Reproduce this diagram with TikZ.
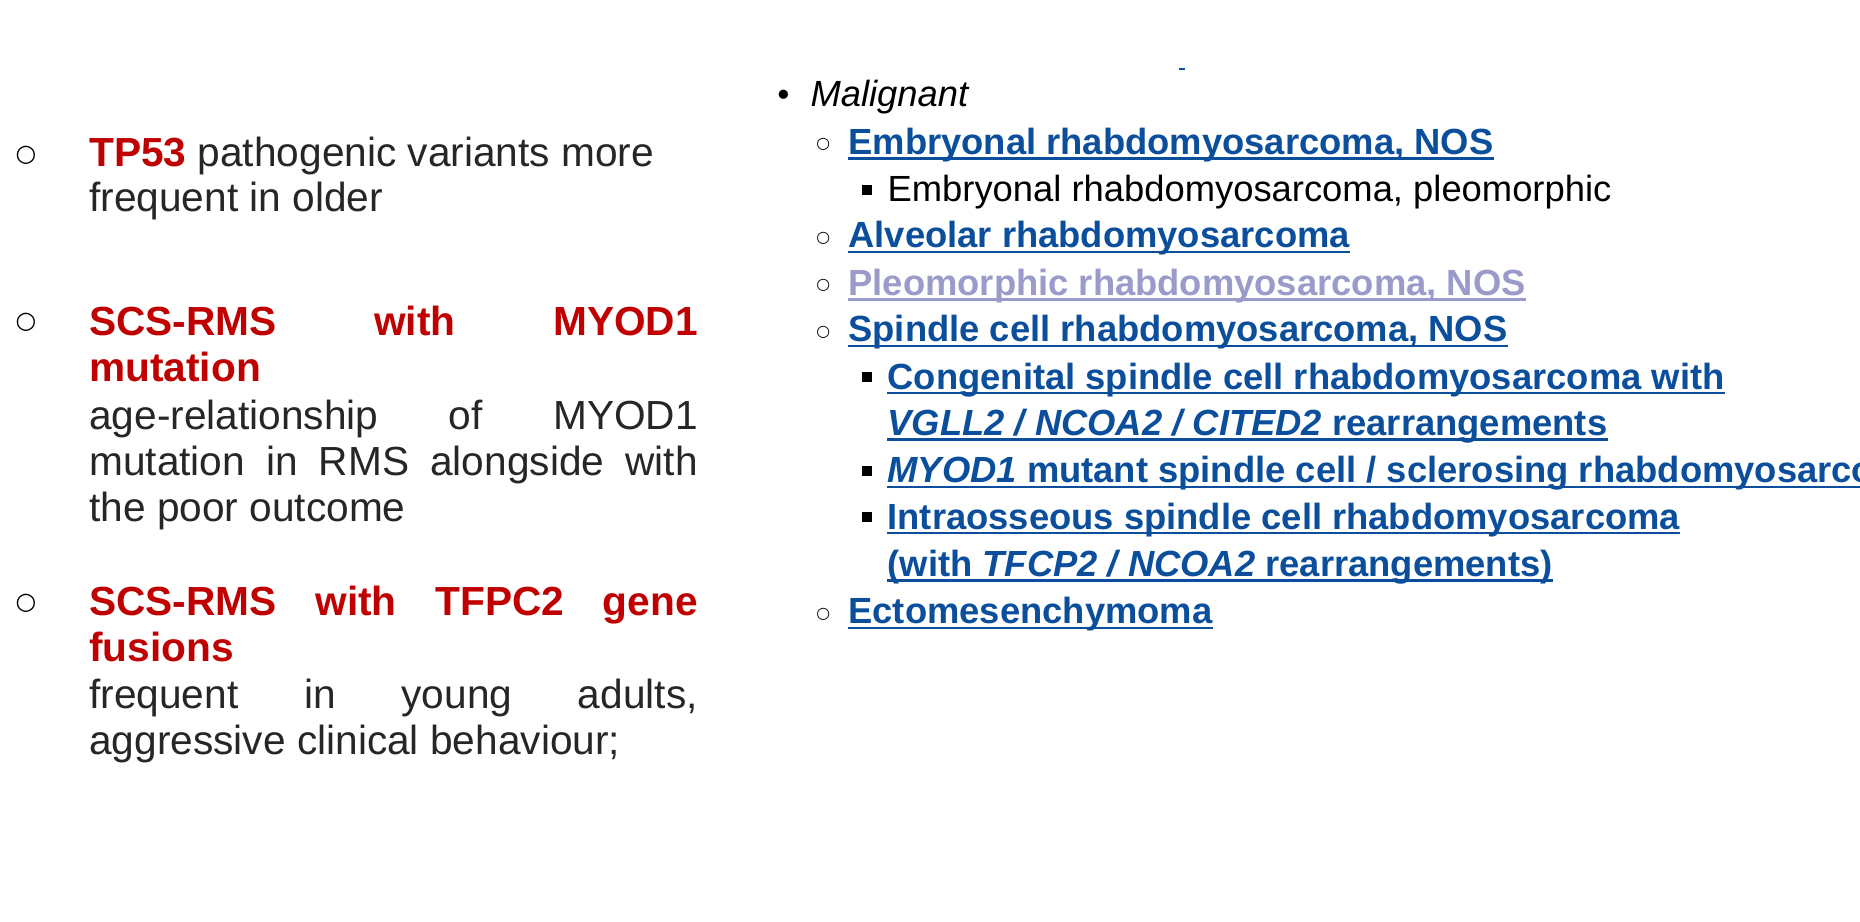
\documentclass[tikz,border=0pt]{standalone}
\usepackage{fontspec}
\setmainfont{Liberation Sans}
\newfontfamily\symfont{DejaVu Sans}
\definecolor{redt}{HTML}{C00000}
\definecolor{txt}{HTML}{262626}
\definecolor{lnk}{HTML}{0B4F9C}
\definecolor{lnkv}{HTML}{9B9BCB}
\begin{document}
\begin{tikzpicture}[x=0.75pt,y=-0.75pt,
  lt/.style={anchor=base west,inner sep=0pt,font=\fontsize{25.7}{30}\selectfont,text=txt},
  rd/.style={lt,font=\fontsize{25.7}{30}\selectfont\bfseries,text=redt},
  bl/.style={anchor=center,inner sep=0pt,font=\fontsize{15}{18}\symfont,text=black},
  rt/.style={anchor=base west,inner sep=0pt,font=\fontsize{23}{26}\selectfont\bfseries,text=lnk},
  ul/.style={line width=1.5pt}]
\useasboundingbox (0,0) rectangle (1568,776.5);
\clip (0,0) rectangle (1568,776.5);
\fill[white] (0,0) rectangle (1568,776.5);
% left column
\node[bl] (b1) at (22,131) {○};
\node[lt] (l1) at (75,140) {\textcolor{redt}{\bfseries TP53} pathogenic variants more};
\node[lt] (l2) at (75,178) {frequent in older};
\node[bl] (b2) at (22,272) {○};
\node[rd] (l3) at (75,283) {\makebox[384.75pt][s]{SCS-RMS with MYOD1}};
\node[rd] (l4) at (75,322) {mutation};
\node[lt] (l5) at (75,362) {\makebox[384.75pt][s]{age-relationship of MYOD1}};
\node[lt] (l6) at (75,401) {\makebox[384.75pt][s]{mutation in RMS alongside with}};
\node[lt] (l7) at (75,440) {the poor outcome};
\node[bl] (b3) at (22,509) {○};
\node[rd] (l8) at (75,519) {\makebox[384.75pt][s]{SCS-RMS with TFPC2 gene}};
\node[rd] (l9) at (75,558) {fusions};
\node[lt] (l10) at (75,597) {\makebox[384.75pt][s]{frequent in young adults,}};
\node[lt] (l11) at (75,636) {aggressive clinical behaviour;};
% right column
\draw[lnk,line width=1pt] (994,58) -- (999,58);
\node[bl,font=\fontsize{20}{22}\symfont] (r0b) at (661,83) {•};
\node[lt,font=\fontsize{23}{26}\selectfont\itshape,text=black] (r0) at (683,90) {Malignant};
\foreach \n/\y/\t in {r1/130/{Embryonal rhabdomyosarcoma, NOS},
  r3/209/{Alveolar rhabdomyosarcoma},
  r5/288/{Spindle cell rhabdomyosarcoma, NOS},
  r11/526/{Ectomesenchymoma}}{
  \node[bl,font=\fontsize{10}{12}\symfont] (\n b) at (694,\y-8) {○};
  \node[rt] (\n) at (715,\y) {\t};
  \draw[lnk,ul] ([yshift=-2.6pt]\n.base west) -- ([yshift=-2.6pt]\n.base east);
}
\node[bl,font=\fontsize{10}{12}\symfont] (r4b) at (694,241) {○};
\node[rt,text=lnkv] (r4) at (715,249) {Pleomorphic rhabdomyosarcoma, NOS};
\draw[lnkv,ul] ([yshift=-2.6pt]r4.base west) -- ([yshift=-2.6pt]r4.base east);
\fill (727,156) rectangle (735,164);
\node[rt,font=\fontsize{23}{26}\selectfont,text=black] (r2) at (748,170) {Embryonal rhabdomyosarcoma, pleomorphic};
\foreach \n/\y/\t/\sq in {r6/328/{Congenital spindle cell rhabdomyosarcoma with}/1,
  r7/367/{\textit{VGLL2 / NCOA2 / CITED2} rearrangements}/0,
  r8/407/{\textit{MYOD1} mutant spindle cell / sclerosing rhabdomyosarcoma}/1,
  r9/446/{Intraosseous spindle cell rhabdomyosarcoma}/1,
  r10/486/{(with \textit{TFCP2 / NCOA2} rearrangements)}/0}{
  \ifnum\sq=1 \fill (727,\y-14) rectangle (735,\y-6);\fi
  \node[rt] (\n) at (748,\y) {\t};
  \draw[lnk,ul] ([yshift=-2.6pt]\n.base west) -- ([yshift=-2.6pt]\n.base east);
}
\end{tikzpicture}
\end{document}
